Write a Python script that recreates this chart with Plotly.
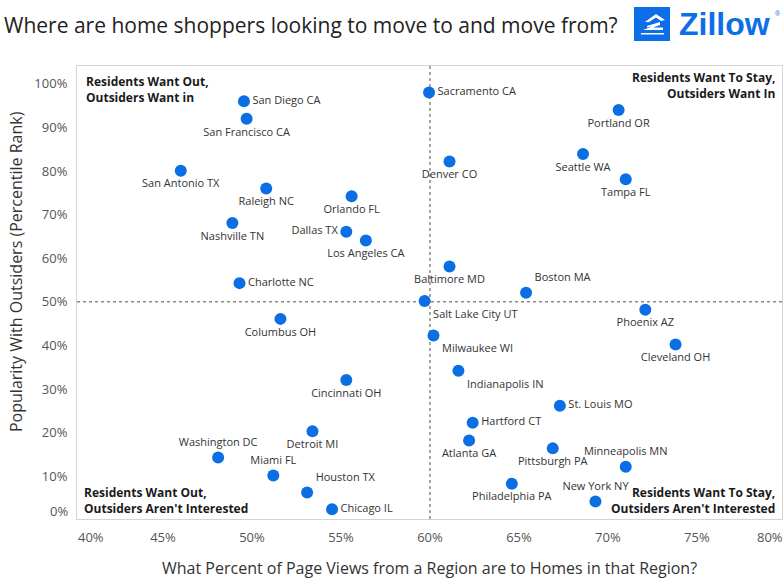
import plotly.graph_objects as go

# ---------------- data ----------------
cities = ["San Diego CA", "San Francisco CA", "San Antonio TX", "Raleigh NC", "Orlando FL",
          "Nashville TN", "Dallas TX", "Los Angeles CA", "Charlotte NC", "Sacramento CA",
          "Portland OR", "Denver CO", "Seattle WA", "Tampa FL", "Baltimore MD", "Boston MA",
          "Salt Lake City UT", "Phoenix AZ", "Columbus OH", "Cincinnati OH", "Detroit MI",
          "Washington DC", "Miami FL", "Houston TX", "Chicago IL", "Milwaukee WI",
          "Cleveland OH", "Indianapolis IN", "St. Louis MO", "Hartford CT", "Atlanta GA",
          "Pittsburgh PA", "Minneapolis MN", "Philadelphia PA", "New York NY"]
page_view_pct = [49.55, 49.7, 46.0, 50.8, 55.6,
                 48.9, 55.3, 56.4, 49.3, 59.95,
                 70.6, 61.1, 68.6, 71.0, 61.1, 65.4,
                 59.7, 72.1, 51.6, 55.3, 53.4,
                 48.1, 51.2, 53.1, 54.5, 60.2,
                 73.8, 61.6, 67.3, 62.4, 62.2,
                 66.9, 71.0, 64.6, 69.3]
popularity_pct = [96.0, 92.0, 80.1, 76.0, 74.2,
                  68.1, 66.1, 64.1, 54.3, 98.0,
                  94.0, 82.2, 83.9, 78.1, 58.1, 52.1,
                  50.2, 48.2, 46.1, 32.1, 20.3,
                  14.3, 10.2, 6.3, 2.45, 42.3,
                  40.2, 34.2, 26.2, 22.3, 18.2,
                  16.4, 12.2, 8.3, 4.2]
label_pos = ["middle right", "bottom center", "bottom center", "bottom center", "bottom center",
             "bottom center", "middle left", "bottom center", "middle right", "middle right",
             "bottom center", "bottom center", "bottom center", "bottom center", "bottom center", "top right",
             "bottom right", "bottom center", "bottom center", "bottom center", "bottom center",
             "top center", "top center", "top right", "middle right", "bottom right",
             "bottom center", "bottom right", "middle right", "middle right", "bottom center",
             "bottom center", "top center", "bottom center", "top center"]

x_ticks = [45, 50, 55, 60, 65, 70, 75]
y_ticks = [10, 20, 30, 40, 50, 60, 70, 80, 90, 100]
x_split = 60
y_split = 50

# ---------------- layout helpers ----------------
W, H = 784, 584
L, R, T, B = 77, 782, 66, 519
def px(xp):
    return (xp - L) / (R - L)
def py(yp):
    return (B - yp) / (B - T)

BLUE = "#0b6fe3"
ZBLUE = "#0d6fe8"
FONT = "Open Sans"

fig = go.Figure()
fig.add_trace(go.Scatter(
    x=page_view_pct, y=popularity_pct, mode="markers+text",
    text=cities, textposition=label_pos,
    textfont=dict(family=FONT, size=11, color="#333333"),
    marker=dict(size=12, color=BLUE, line=dict(width=0)),
    hoverinfo="text", showlegend=False, cliponaxis=False,
))

fig.update_layout(
    width=W, height=H,
    margin=dict(l=L, r=W - R, t=T, b=H - B),
    paper_bgcolor="white", plot_bgcolor="white",
    font=dict(family=FONT, color="#333333"),
    xaxis=dict(range=[40.17, 79.78], tickvals=x_ticks, ticktext=[f"{v}%" for v in x_ticks],
               showgrid=False, zeroline=False, showline=True, mirror=True,
               linecolor="#d4d4d4", linewidth=1,
               ticks="outside", ticklen=6, tickcolor="rgba(0,0,0,0)",
               tickfont=dict(family=FONT, size=13, color="#555555")),
    yaxis=dict(range=[0.2, 104.1], tickvals=y_ticks, ticktext=[f"{v}%" for v in y_ticks],
               showgrid=False, zeroline=False, showline=True, mirror=True,
               linecolor="#d4d4d4", linewidth=1,
               ticks="outside", ticklen=6, tickcolor="rgba(0,0,0,0)",
               tickfont=dict(family=FONT, size=13, color="#555555")),
)

# quadrant dividers
fig.add_shape(type="line", xref="x", yref="paper", x0=x_split, x1=x_split, y0=0, y1=1,
              line=dict(color="#8a8a8a", width=1.5, dash="dot"), layer="below")
fig.add_shape(type="line", xref="paper", yref="y", x0=0, x1=1, y0=y_split, y1=y_split,
              line=dict(color="#8a8a8a", width=1.5, dash="dot"), layer="below")

ann = []
# title
ann.append(dict(text="Where are home shoppers looking to move to and move from?",
                x=px(2), y=py(25), xanchor="left", yanchor="middle",
                font=dict(family=FONT, size=21, color="#222222")))
# axis titles
ann.append(dict(text="What Percent of Page Views from a Region are to Homes in that Region?",
                x=px(430), y=py(568), xanchor="center", yanchor="middle",
                font=dict(family=FONT, size=16, color="#333333")))
ann.append(dict(text="Popularity With Outsiders (Percentile Rank)", textangle=-90,
                x=px(16), y=py(272), xanchor="center", yanchor="middle",
                font=dict(family=FONT, size=16, color="#333333")))
# edge tick labels (shifted inside like the reference)
ann.append(dict(text="40%", x=px(91), y=py(537), xanchor="center", yanchor="middle",
                font=dict(family=FONT, size=13, color="#555555")))
ann.append(dict(text="80%", x=px(770), y=py(537), xanchor="center", yanchor="middle",
                font=dict(family=FONT, size=13, color="#555555")))
ann.append(dict(text="0%", x=px(70), y=py(511), xanchor="right", yanchor="middle",
                font=dict(family=FONT, size=13, color="#555555")))
# quadrant labels
qfont = dict(family=FONT, size=12, color="#1a1a1a")
ann.append(dict(text="<b>Residents Want Out,<br>Outsiders Want in</b>", align="left",
                x=px(84), y=py(89), xanchor="left", yanchor="middle", font=qfont))
ann.append(dict(text="<b>Residents Want To Stay,<br>Outsiders Want In</b>", align="right",
                x=px(777), y=py(85), xanchor="right", yanchor="middle", font=qfont))
ann.append(dict(text="<b>Residents Want Out,<br>Outsiders Aren't Interested</b>", align="left",
                x=px(82), y=py(500), xanchor="left", yanchor="middle", font=qfont))
ann.append(dict(text="<b>Residents Want To Stay,<br>Outsiders Aren't Interested</b>", align="right",
                x=px(777), y=py(500), xanchor="right", yanchor="middle", font=qfont))
# Zillow wordmark
ann.append(dict(text="<b>Zillow</b>", x=px(677), y=py(24), xanchor="left", yanchor="middle",
                font=dict(family="Liberation Sans", size=32, color=ZBLUE)))
ann.append(dict(text="®", x=px(773), y=py(13), xanchor="left", yanchor="middle",
                font=dict(family="Liberation Sans", size=7, color=ZBLUE)))
for a in ann:
    a.update(xref="paper", yref="paper", showarrow=False)
fig.update_layout(annotations=ann)

# Zillow icon (blue square with white glyph)
fig.add_shape(type="rect", xref="paper", yref="paper",
              x0=px(634), x1=px(670), y0=py(41), y1=py(7),
              fillcolor=ZBLUE, line=dict(width=0))

def path(points):
    return "M " + " L ".join(f"{px(a):.5f},{py(b):.5f}" for a, b in points) + " Z"

glyphs = [
    [(645, 22), (656, 14), (665, 20), (661, 21), (656, 17.5), (649, 22)],
    [(647, 26), (660, 22), (660, 25), (653, 27.5), (663, 27.5), (663, 30), (643, 30), (652, 26.5), (647, 27.5)],
    [(641, 33), (664, 33), (664, 34.5), (641, 34.5)],
]
for g in glyphs:
    fig.add_shape(type="path", xref="paper", yref="paper", path=path(g),
                  fillcolor="white", line=dict(width=0))

fig.write_html("out.html", config={"displayModeBar": False})

# remove the default page margin so the figure sits at the window's top-left corner
with open("out.html", encoding="utf-8") as f:
    html = f.read()
html = html.replace("<head>", "<head><style>html,body{margin:0;padding:0;overflow:hidden}</style>", 1)
with open("out.html", "w", encoding="utf-8") as f:
    f.write(html)
